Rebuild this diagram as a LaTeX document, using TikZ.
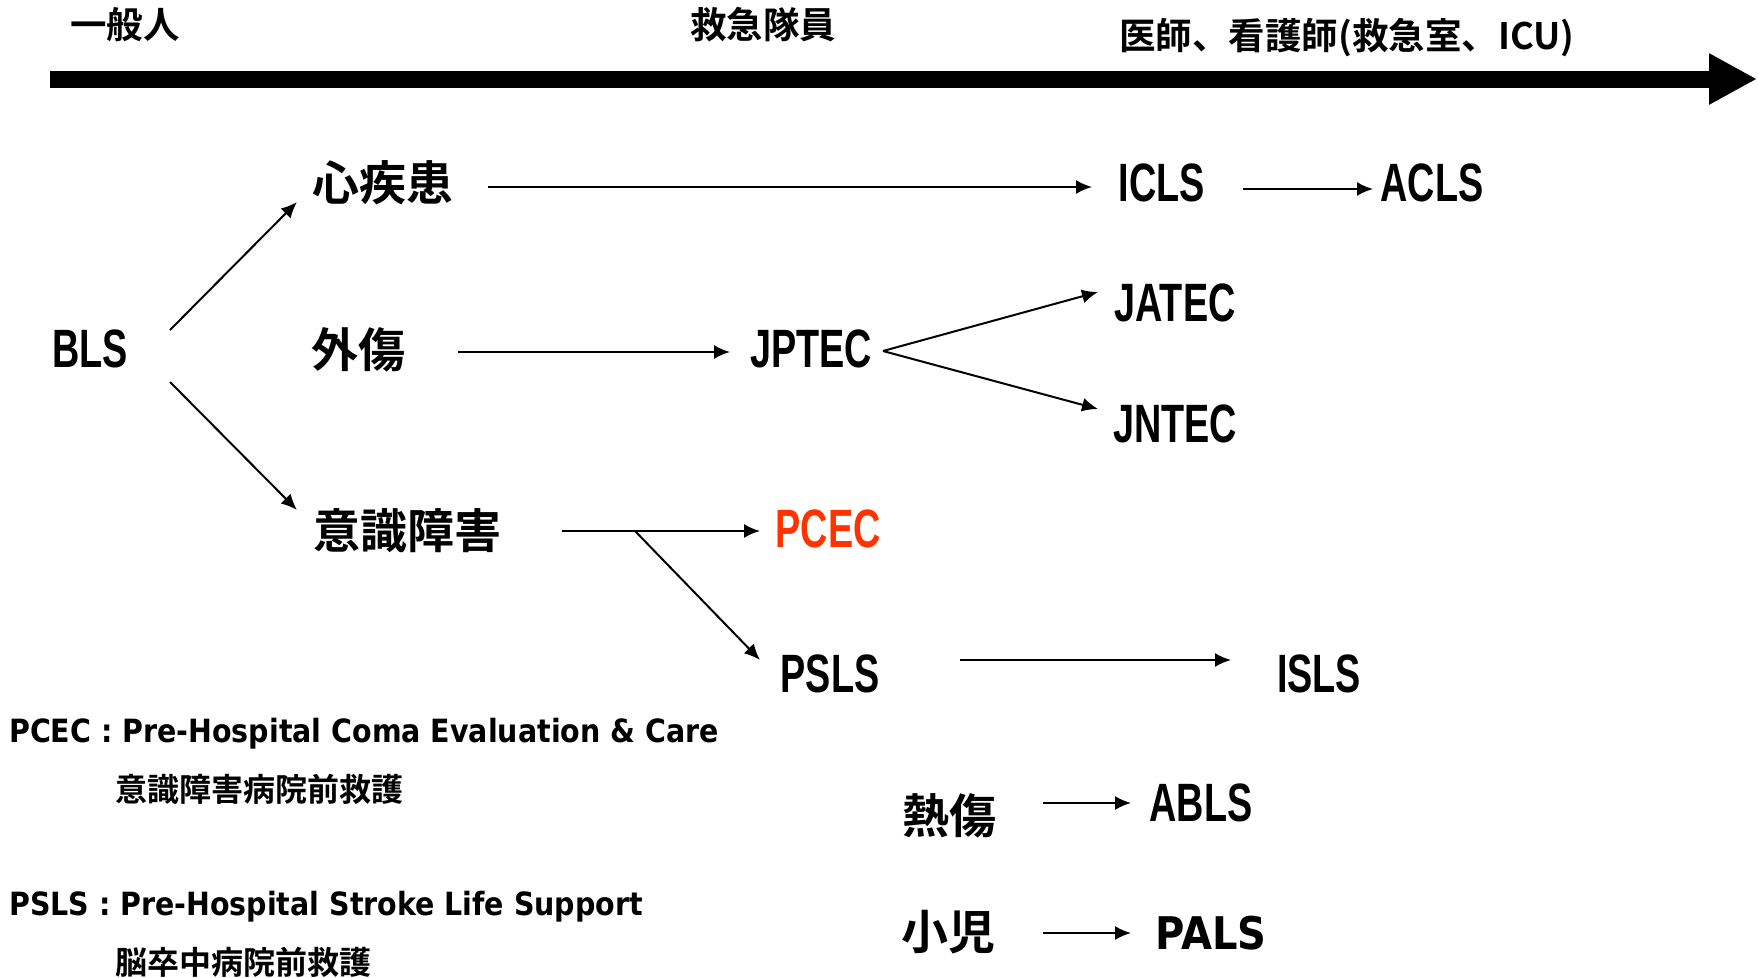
\documentclass[tikz,border=0pt]{standalone}
\usepackage{fontspec}
\setmainfont{Liberation Sans}
\newfontfamily\jpfont{Noto Sans CJK JP}[UprightFont=* Bold]
\newfontfamily\labfont{Liberation Sans}[UprightFont=* Bold, FakeStretch=0.7]
\newfontfamily\legfont{DejaVu Sans}[UprightFont=* Bold, FakeStretch=0.89]
\usetikzlibrary{calc,arrows.meta,positioning}
\definecolor{pcecred}{RGB}{255,51,0}
\tikzset{
    course/.style={
    inner sep=0pt,font=\labfont\fontsize{54}{60}\selectfont
    },
    field/.style={
    inner sep=0pt,font=\jpfont\fontsize{47}{52}\selectfont
    },
    staff/.style={
    inner sep=0pt,font=\jpfont\fontsize{36.5}{42}\selectfont
    },
    legend/.style={
    inner sep=0pt,anchor=base west,font=\legfont\fontsize{32}{36}\selectfont
    },
    legendjp/.style={
    inner sep=0pt,anchor=west,font=\jpfont\fontsize{32}{36}\selectfont
    },
    flow/.style={
    -{Latex[length=16pt,width=14pt]},line width=2pt
    },
    timeline/.style={
    -{Triangle[length=48pt,width=48pt]},line width=17pt
    },
}
\begin{document}
\begin{tikzpicture}[x=1pt,y=-1pt]
   \useasboundingbox (0,0) rectangle (1758,977);

   %who takes the course
   \node[staff] (public) at (125,25) {一般人};
   \node[staff] (ems) at (763,25) {救急隊員};
   \node[staff] (doctor) at (1347,38) {医師、看護師(救急室、ICU)};
   \coordinate (axisL) at (50,79);
   \coordinate (axisR) at (1757,79);

   %courses
   \node[course] (bls) at (90,349) {BLS};
   \node[field] (cardiac) at (383,183) {心疾患};
   \node[field] (trauma) at (358,350) {外傷};
   \node[field] (coma) at (407,531) {意識障害};
   \node[course] (icls) at (1162,183) {ICLS};
   \node[course] (acls) at (1432,183) {ACLS};
   \node[course] (jptec) at (811,349) {JPTEC};
   \node[course] (jatec) at (1175,303) {JATEC};
   \node[course] (jntec) at (1175,424) {JNTEC};
   \node[course,text=pcecred] (pcec) at (828,529) {PCEC};
   \node[course] (psls) at (830,674) {PSLS};
   \node[course] (isls) at (1319,674) {ISLS};
   \node[field] (burn) at (949,816) {熱傷};
   \node[course] (abls) at (1201,803) {ABLS};
   \node[field] (child) at (948,932) {小児};
   \node[legend,anchor=center,font=\legfont\fontsize{45}{50}\selectfont] (pals) at (1211,933) {PALS};
   \coordinate (split) at (635,531);

   %abbreviations
   \node[legend] (pcecdef) at (9,742) {PCEC : Pre-Hospital Coma Evaluation \& Care};
   \node[legendjp] (pcecjp) at (115,789) {意識障害病院前救護};
   \node[legend] (pslsdef) at (9,915) {PSLS : Pre-Hospital Stroke Life Support};
   \node[legendjp] (pslsjp) at (115,962) {脳卒中病院前救護};

  \draw[timeline] (axisL) -- (axisR);

  \path[flow]
    %from BLS
    ([shift={(80,-19)}]bls.center) edge ([shift={(-86,19)}]cardiac.center)
    ([shift={(80,33)}]bls.center) edge ([shift={(-110,-21)}]coma.center)
    %cardiac
    ([shift={(105,4)}]cardiac.center) edge ([shift={(-70,4)}]icls.center)
    ([shift={(81,6)}]icls.center) edge ([shift={(-59,6)}]acls.center)
    %trauma
    ([shift={(100,2)}]trauma.center) edge ([shift={(-81,3)}]jptec.center)
    ([shift={(72,2)}]jptec.center) edge ([shift={(-77,-11)}]jatec.center)
    ([shift={(72,2)}]jptec.center) edge ([shift={(-77,-15)}]jntec.center)
    %coma
    ([shift={(155,0)}]coma.center) edge ([shift={(-68,2)}]pcec.center)
    (split) edge ([shift={(-70,-14)}]psls.center)
    ([shift={(130,-14)}]psls.center) edge ([shift={(-88,-14)}]isls.center)
    %burn and child
    ([shift={(94,-13)}]burn.center) edge ([shift={(-70,0)}]abls.center)
    ([shift={(95,1)}]child.center) edge ([shift={(-80,0)}]pals.center);
  \end{tikzpicture}
\end{document}
